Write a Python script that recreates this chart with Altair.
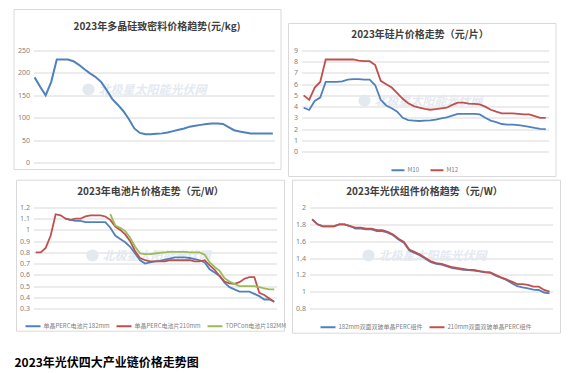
import altair as alt
import pandas as pd

FONT = "Noto Sans CJK SC"
NUMFONT = "Noto Sans"
GRID = "#d9d9d9"
LABEL = "#7f7f7f"
BLUE = "#4f81bd"
RED = "#c0504d"
GREEN = "#9bbb59"
WM = "#e4e9f0"

# ---------------- data ----------------
# Panel 1: polysilicon dense material price (yuan/kg), weekly 2023
poly_price = [190, 169, 150, 180, 230, 230, 230, 226, 218, 208,
              199, 191, 180, 162, 142, 129, 115, 97, 76, 66,
              63, 63, 64, 65, 67, 70, 73, 76, 80, 82,
              84, 86, 87, 87, 86, 79, 72, 69, 67, 65,
              65, 65, 65, 65]

# Panel 2: wafer prices (yuan/piece)
wafer_series = ["M10", "M12"]
wafer_m10 = [3.9, 3.7, 4.5, 4.8, 6.2, 6.2, 6.2, 6.25, 6.4, 6.45,
             6.45, 6.4, 6.4, 5.9, 4.6, 4.1, 3.85, 3.55, 3.0, 2.8,
             2.76, 2.72, 2.76, 2.78, 2.85, 2.95, 3.05, 3.2, 3.35, 3.35,
             3.35, 3.35, 3.3, 3.0, 2.75, 2.62, 2.45, 2.4, 2.4, 2.35,
             2.28, 2.2, 2.1, 2.02, 2.0]
wafer_m12 = [5.0, 4.6, 5.7, 6.2, 8.2, 8.2, 8.2, 8.2, 8.2, 8.2,
             8.1, 8.05, 8.05, 7.7, 6.3, 6.0, 5.7, 5.2, 4.7, 4.3,
             4.05, 3.9, 3.8, 3.72, 3.78, 3.85, 3.9, 4.15, 4.35, 4.35,
             4.27, 4.25, 4.2, 4.0, 3.72, 3.55, 3.4, 3.4, 3.4, 3.35,
             3.3, 3.3, 3.15, 3.0, 3.0]

# Panel 3: cell prices (yuan/W)
cell_series = ["单晶PERC电池片182mm", "单晶PERC电池片210mm", "TOPCon电池片182MM"]
cell_182 = [None, None, None, None, None, None, 1.10, 1.09, 1.08, 1.08,
            1.07, 1.07, 1.07, 1.07, 1.07, 1.02, 0.95, 0.92, 0.89, 0.85,
            0.79, 0.73, 0.70, 0.71, 0.72, 0.725, 0.735, 0.745, 0.755, 0.755,
            0.755, 0.75, 0.74, 0.73, 0.71, 0.65, 0.62, 0.59, 0.53, 0.49,
            0.47, 0.45, 0.45, 0.45, 0.43, 0.41, 0.38, 0.38, 0.36]
cell_210 = [0.80, 0.80, 0.84, 0.95, 1.14, 1.13, 1.10, 1.09, 1.10, 1.10,
            1.12, 1.13, 1.13, 1.13, 1.12, 1.09, 1.03, 1.00, 0.96, 0.90,
            0.81, 0.75, 0.73, 0.72, 0.72, 0.72, 0.72, 0.73, 0.73, 0.73,
            0.73, 0.73, 0.72, 0.72, 0.73, 0.685, 0.645, 0.59, 0.54, 0.525,
            0.52, 0.535, 0.565, 0.58, 0.58, 0.44, 0.42, 0.39, 0.36]
cell_topcon = [None, None, None, None, None, None, None, None, None, None,
               None, None, None, None, None, 1.14, 1.04, 1.02, 0.99, 0.93,
               0.85, 0.79, 0.785, 0.785, 0.79, 0.795, 0.80, 0.805, 0.805, 0.805,
               0.805, 0.80, 0.80, 0.80, 0.78, 0.71, 0.67, 0.635, 0.57, 0.54,
               0.52, 0.50, 0.50, 0.50, 0.50, 0.49, 0.48, 0.47, 0.47]

# Panel 4: module prices (yuan/W)
module_series = ["182mm双面双玻单晶PERC组件", "210mm双面双玻单晶PERC组件"]
module_182 = [1.86, 1.80, 1.775, 1.775, 1.775, 1.80, 1.80, 1.78, 1.75, 1.75,
              1.74, 1.74, 1.72, 1.72, 1.70, 1.67, 1.62, 1.58, 1.49, 1.46,
              1.43, 1.39, 1.35, 1.33, 1.32, 1.30, 1.28, 1.27, 1.26, 1.255,
              1.25, 1.24, 1.23, 1.225, 1.19, 1.165, 1.14, 1.10, 1.065, 1.05,
              1.04, 1.025, 1.02, 0.99, 0.98]
module_210 = [1.86, 1.80, 1.775, 1.775, 1.775, 1.80, 1.80, 1.78, 1.76, 1.76,
              1.75, 1.75, 1.73, 1.73, 1.71, 1.68, 1.63, 1.59, 1.50, 1.47,
              1.44, 1.40, 1.36, 1.34, 1.33, 1.31, 1.29, 1.28, 1.27, 1.26,
              1.26, 1.245, 1.235, 1.23, 1.20, 1.17, 1.145, 1.12, 1.09, 1.09,
              1.08, 1.06, 1.06, 1.02, 1.00]

poly_ticks = [0, 50, 100, 150, 200, 250]
wafer_ticks = [0, 1, 2, 3, 4, 5, 6, 7, 8, 9]
cell_ticks = [0.3, 0.4, 0.5, 0.6, 0.7, 0.8, 0.9, 1.0, 1.1, 1.2]
module_ticks = [0.8, 1.0, 1.2, 1.4, 1.6, 1.8, 2.0]

titles = ["2023年多晶硅致密料价格趋势(元/kg)", "2023年硅片价格走势（元/片）",
          "2023年电池片价格走势（元/W）", "2023年光伏组件价格趋势（元/W）"]
main_title = "2023年光伏四大产业链价格走势图"
watermark = "北极星太阳能光伏网"


def long_df(names, arrays):
    rows = []
    for n, arr in zip(names, arrays):
        for i, v in enumerate(arr):
            if v is not None:
                rows.append({"s": n, "i": i, "v": v})
    return pd.DataFrame(rows)


one = pd.DataFrame({"k": [0]})


def panel(df, order, colors, xdom, ydom, yvals, yfmt, w, h, fr, title, tpos, wpos,
          lpos=None, sym=225, colpad=3, sw=1.8, ghost_top=None):
    base = alt.Chart(one)
    layers = []
    layers.append(base.mark_rect(fill="white", fillOpacity=0, stroke="#d9d9d9", strokeWidth=1).encode(
        x=alt.value(fr[0]), x2=alt.value(w + fr[1]), y=alt.value(fr[2]), y2=alt.value(h + fr[3])))
    if ghost_top is not None:
        layers.append(base.mark_rect(opacity=0).encode(
            x=alt.value(fr[0]), x2=alt.value(fr[0] + 1), y=alt.value(ghost_top), y2=alt.value(ghost_top + 1)))
    layers.append(base.mark_text(text=watermark, font=FONT, fontSize=12, fontWeight="bold",
                                 fontStyle="italic", color=WM, align="center", baseline="middle").encode(
        x=alt.value(wpos[0]), y=alt.value(wpos[1])))
    layers.append(base.mark_point(filled=True, shape="circle", size=150, color=WM, opacity=1).encode(
        x=alt.value(wpos[0] - 64), y=alt.value(wpos[1])))
    yaxis = alt.Axis(values=yvals, format=yfmt, grid=True, gridColor=GRID, gridWidth=1, domain=False,
                     ticks=False, labelFont=NUMFONT, labelFontSize=7, labelColor=LABEL, labelPadding=4,
                     title=None)
    enc = dict(
        x=alt.X("i:Q", scale=alt.Scale(domain=xdom, nice=False, zero=False), axis=None),
        y=alt.Y("v:Q", scale=alt.Scale(domain=ydom, nice=False, zero=False), axis=yaxis),
    )
    if lpos is not None:
        leg = alt.Legend(orient="none", legendX=lpos[0], legendY=lpos[1], direction="horizontal",
                         title=None, symbolType="stroke", symbolSize=sym, symbolStrokeWidth=2,
                         labelFont=FONT, labelFontSize=6, labelColor=LABEL, labelOffset=2,
                         columnPadding=colpad, padding=0)
        enc["color"] = alt.Color("s:N", scale=alt.Scale(domain=order, range=colors), legend=leg, sort=order)
        lines = alt.Chart(df).mark_line(strokeWidth=sw).encode(**enc)
    else:
        lines = alt.Chart(df).mark_line(strokeWidth=sw, color=colors[0]).encode(**enc)
    layers.append(lines)
    layers.append(base.mark_text(text=title, font=FONT, fontSize=10, fontWeight="bold", color="#404040",
                                 align="center", baseline="middle").encode(
        x=alt.value(tpos[0]), y=alt.value(tpos[1])))
    return alt.layer(*layers).properties(width=w, height=h)


df1 = long_df(["多晶硅致密料"], [poly_price])
df2 = long_df(wafer_series, [wafer_m10, wafer_m12])
df3 = long_df(cell_series, [cell_182, cell_210, cell_topcon])
df4 = long_df(module_series, [module_182, module_210])

p1 = panel(df1, ["多晶硅致密料"], [BLUE], [-0.2, 43.3], [0, 250], poly_ticks, "d",
           241, 112, (-19.5, 6.5, -41, 7), titles[0], (123.5, -24), (119, 39), sw=2)
p2 = panel(df2, wafer_series, [BLUE, RED], [-0.4, 44.5], [0, 9], wafer_ticks, "d",
           247, 101, (-13, 7.5, -27, 25), titles[1], (118.5, -15.3), (127, 50),
           lpos=(89, 112), sym=169, colpad=7, ghost_top=-37.5)
p3 = panel(df3, cell_series, [BLUE, RED, GREEN], [-0.46, 48.46], [0.3, 1.2], cell_ticks, ".1~f",
           243, 101, (-17, 8, -27.3, 22.7), titles[2], (117, -15.6), (123, 48),
           lpos=(-9, 110), sym=225, colpad=2)
p4 = panel(df4, module_series, [BLUE, RED], [-0.5, 44.55], [0.8, 2.0], module_ticks, ".1~f",
           243, 101, (-17, 8, -27.3, 24.7), titles[3], (115, -15.6), (123, 48),
           lpos=(10, 111), sym=225, colpad=2)

row1 = alt.hconcat(p1, p2, spacing=6).resolve_scale(color="independent")
row2 = alt.hconcat(p3, p4, spacing=5).resolve_scale(color="independent")
chart = alt.vconcat(row1, row2, spacing=2).resolve_scale(color="independent").properties(
    title=alt.TitleParams(main_title, orient="bottom", anchor="start", font=FONT, fontSize=12,
                          fontWeight="bold", color="#000000", offset=24, dx=1),
    padding={"left": 5.5, "top": 0.5, "right": 0, "bottom": 5},
    background="white",
).configure_view(strokeWidth=0)

chart.save("out.html", embed_options={"renderer": "svg", "actions": False})
